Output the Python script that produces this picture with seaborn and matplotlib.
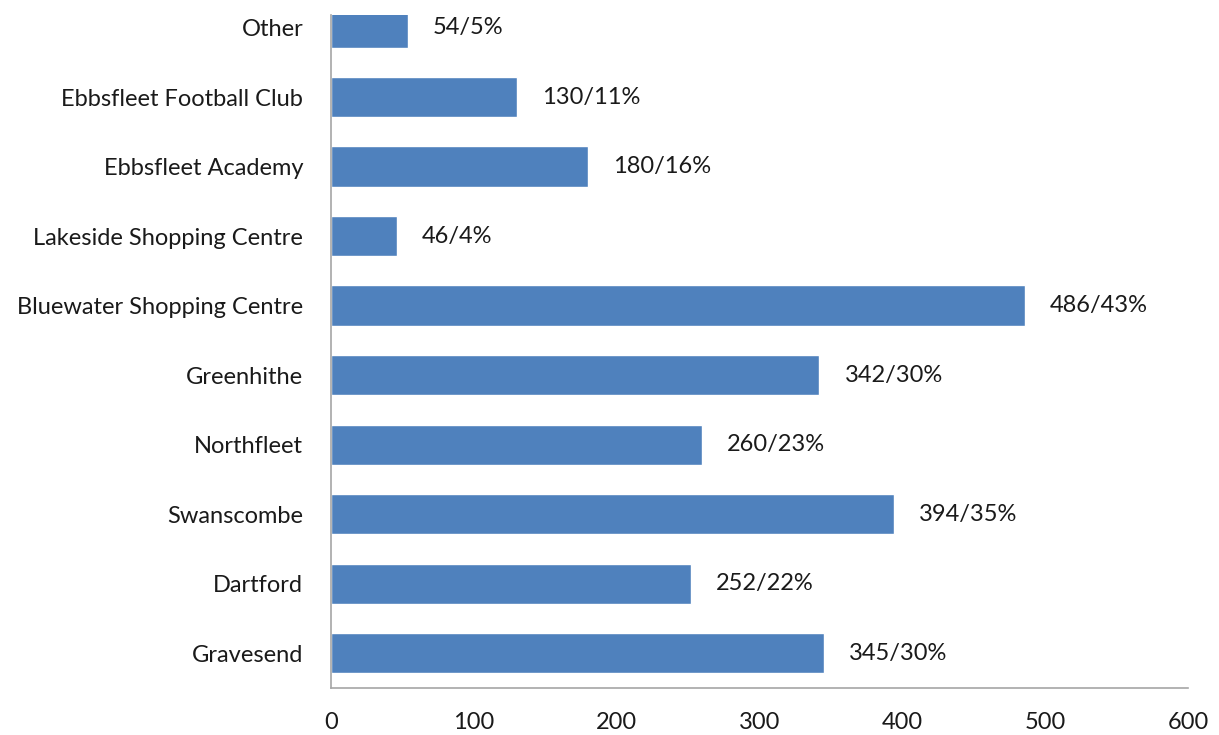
import matplotlib.pyplot as plt
import pandas as pd
import seaborn as sns

# Data (top to bottom)
places = [
    "Other",
    "Ebbsfleet Football Club",
    "Ebbsfleet Academy",
    "Lakeside Shopping Centre",
    "Bluewater Shopping Centre",
    "Greenhithe",
    "Northfleet",
    "Swanscombe",
    "Dartford",
    "Gravesend",
]
counts = [54, 130, 180, 46, 486, 342, 260, 394, 252, 345]
percents = [5, 11, 16, 4, 43, 30, 23, 35, 22, 30]
x_ticks = [0, 100, 200, 300, 400, 500, 600]

df = pd.DataFrame({"place": places, "count": counts})

sns.set_style("white")
plt.rcParams['font.family'] = ['Lato', 'DejaVu Sans']

fig = plt.figure(figsize=(12.19, 7.35), dpi=100)
ax = fig.add_axes([0.2715, 0.0639, 0.7031, 0.9157])

sns.barplot(data=df, x="count", y="place", order=places, color="#4F81BD",
            saturation=1, width=0.58, orient="h", ax=ax)

labels = [f"{c}/{p}%" for c, p in zip(counts, percents)]
ax.bar_label(ax.containers[0], labels=labels, padding=18, fontsize=17,
             color="#1a1a1a")

ax.set_xlim(0, 600)
ax.set_ylim(9.5, -0.18)
ax.set_xticks(x_ticks)
ax.set_xlabel("")
ax.set_ylabel("")
ax.tick_params(axis="both", length=0, labelsize=17, colors="#1a1a1a")
ax.tick_params(axis="x", pad=17)
ax.tick_params(axis="y", pad=20)

for s in ["top", "right"]:
    ax.spines[s].set_visible(False)
for s in ["left", "bottom"]:
    ax.spines[s].set_color("#a6a6a6")
    ax.spines[s].set_linewidth(1.2)

fig.savefig("out.png", dpi=100)
